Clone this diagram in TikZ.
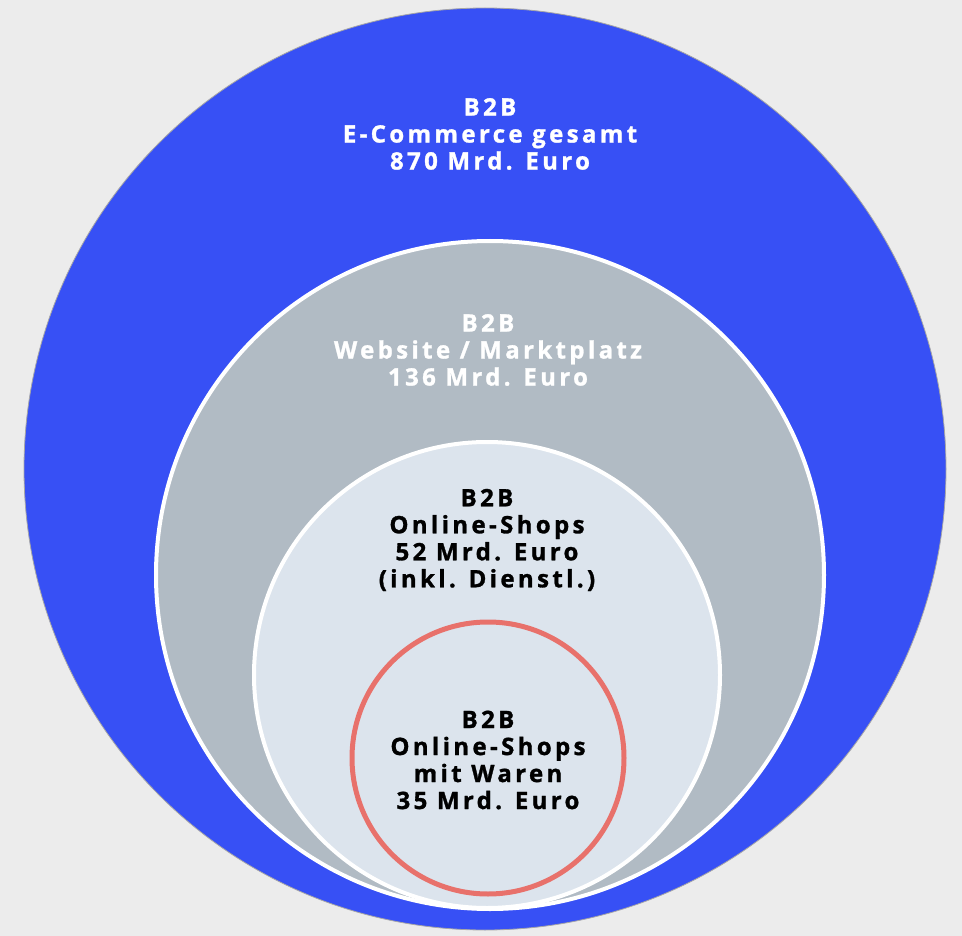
\documentclass[tikz,border=0pt]{standalone}
\usepackage{fontspec}
\setmainfont{Open Sans}[LetterSpace=14, BoldFeatures={FakeBold=1.2}]
\definecolor{bgc}{HTML}{ECECEC}
\definecolor{bluec}{HTML}{3750F5}
\definecolor{grayc}{HTML}{B1BBC4}
\definecolor{lightc}{HTML}{DCE4ED}
\definecolor{redc}{HTML}{E8716B}
\tikzset{
  lbl/.style={align=center, font=\fontsize{24}{27}\selectfont\bfseries, inner sep=0pt},
}
\begin{document}
\begin{tikzpicture}[x=1pt,y=-1pt]
\fill[bgc] (0,0) rectangle (962,936);
\useasboundingbox (0,0) rectangle (962,936);
\fill[bluec, draw=gray!70, line width=0.8pt] (485,469) circle[radius=461];
\fill[grayc, draw=white, line width=4pt] (490,575) circle[radius=334];
\fill[lightc, draw=white, line width=4pt] (487,675) circle[radius=233];
\draw[redc, line width=5pt] (488,758) circle[radius=136];
\node[lbl, text=white] (t1) at (490,134) {B2B\\E-Commerce gesamt\\870 Mrd. Euro};
\node[lbl, text=white] (t2) at (488,350) {B2B\\Website / Marktplatz\\136 Mrd. Euro};
\node[lbl, text=black] (t3) at (487,540) {B2B\\Online-Shops\\52 Mrd. Euro\\(inkl. Dienstl.)};
\node[lbl, text=black] (t4) at (488,760) {B2B\\Online-Shops\\mit Waren\\35 Mrd. Euro};
\end{tikzpicture}
\end{document}
